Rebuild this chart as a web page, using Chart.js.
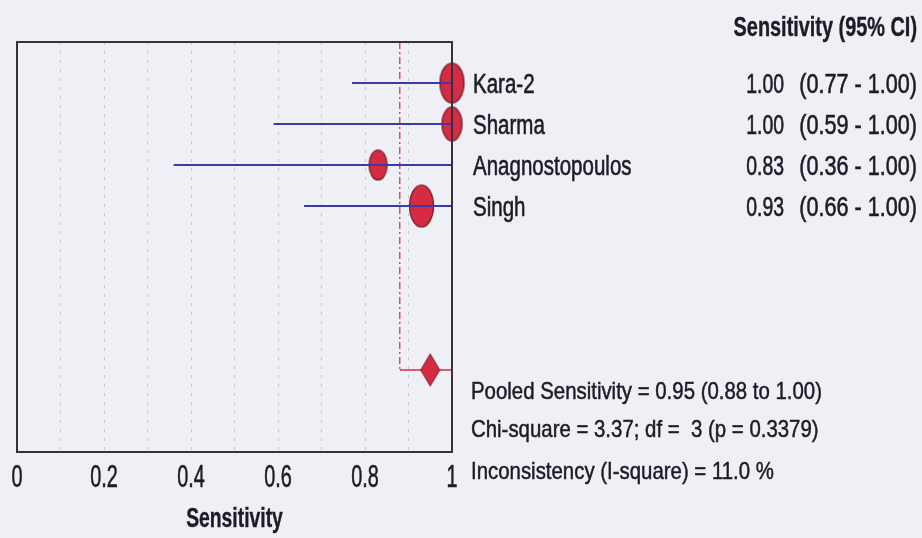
<!DOCTYPE html>
<html>
<head>
<meta charset="utf-8">
<script src="https://cdn.jsdelivr.net/npm/chart.js@4.4.1/dist/chart.umd.min.js"></script>
<style>
  body { margin: 0; background: #eff0f6; }
  #wrap { width: 922px; height: 538px; position: relative; }
</style>
</head>
<body>
<div id="wrap"><canvas id="myChart"></canvas></div>
<script>
// studies
const studies = ['Kara-2', 'Sharma', 'Anagnostopoulos', 'Singh'];
const sens = [1.00, 1.00, 0.83, 0.93];
const ciLow = [0.77, 0.59, 0.36, 0.66];
const ciHigh = [1.00, 1.00, 1.00, 1.00];

// pooled
const pooled = 0.95;
const pooledLow = 0.88;
const pooledHigh = 1.00;
const statLines = [
    'Pooled Sensitivity = 0.95 (0.88 to 1.00)',
    'Chi-square = 3.37; df =  3 (p = 0.3379)',
    'Inconsistency (I-square) = 11.0 %'
];

const tickValues = [0, 0.2, 0.4, 0.6, 0.8, 1];
const tickLabels = ['0', '0.2', '0.4', '0.6', '0.8', '1'];

const FONT = '"Liberation Sans", Arial, sans-serif';
const RED = '#d52b43';
const BLUE = '#3b3ba8';
const INK = '#1c1c24';

// marker shapes (ellipses, like the original)
function ellipse(rx, ry) {
    const c = document.createElement('canvas');
    c.width = rx * 2 + 3;
    c.height = ry * 2 + 3;
    const g = c.getContext('2d');
    g.beginPath();
    g.ellipse(c.width / 2, c.height / 2, rx, ry, 0, 0, Math.PI * 2);
    g.fillStyle = RED;
    g.fill();
    g.lineWidth = 1.2;
    g.strokeStyle = '#6e1822';
    g.stroke();
    return c;
}
function diamond(w, h) {
    const c = document.createElement('canvas');
    c.width = w + 3;
    c.height = h + 3;
    const g = c.getContext('2d');
    const cx = c.width / 2, cy = c.height / 2;
    g.beginPath();
    g.moveTo(cx, cy - h / 2);
    g.lineTo(cx + w / 2, cy);
    g.lineTo(cx, cy + h / 2);
    g.lineTo(cx - w / 2, cy);
    g.closePath();
    g.fillStyle = RED;
    g.fill();
    g.lineWidth = 1;
    g.strokeStyle = '#6e1822';
    g.stroke();
    return c;
}
const markerRx = [12, 10, 9, 12];
const markerRy = [20, 17, 15, 21];
const markers = studies.map((s, i) => ellipse(markerRx[i], markerRy[i]));

// row positions: study i on row i+1, pooled on row 8
const rows = studies.map((s, i) => i + 1);
const pooledRow = 8;

const datasets = [];
// CI lines
for (i in studies) {
    datasets.push({
        type: 'line',
        data: [{x: ciLow[i], y: rows[i]}, {x: ciHigh[i], y: rows[i]}],
        borderColor: BLUE,
        borderWidth: 2,
        pointRadius: 0,
        clip: false,
        order: 0
    });
}
// study points
datasets.push({
    type: 'scatter',
    data: studies.map((s, i) => ({x: sens[i], y: rows[i]})),
    pointStyle: markers,
    clip: false,
    order: 2
});
// pooled CI: dashed vertical + horizontal line
datasets.push({
    type: 'line',
    data: [{x: pooledLow, y: 0}, {x: pooledLow, y: pooledRow}],
    borderColor: RED,
    borderWidth: 1.2,
    borderDash: [7, 3, 2, 3],
    pointRadius: 0,
    order: 1
});
datasets.push({
    type: 'line',
    data: [{x: pooledLow, y: pooledRow}, {x: pooledHigh, y: pooledRow}],
    borderColor: RED,
    borderWidth: 1.5,
    pointRadius: 0,
    clip: false,
    order: 1
});
datasets.push({
    type: 'scatter',
    data: [{x: pooled, y: pooledRow}],
    pointStyle: [diamond(19, 32)],
    clip: false,
    order: 0
});

// narrow, tall text like the original (font is condensed horizontally)
function txt(ctx, s, x, y, size, sx, align, bold, heavy) {
    ctx.save();
    ctx.font = (bold ? 'bold ' : '') + size + 'px ' + FONT;
    ctx.textAlign = align;
    ctx.textBaseline = 'alphabetic';
    ctx.translate(x, y);
    ctx.scale(sx, 1);
    ctx.fillText(s, 0, 0);
    if (heavy) {
        ctx.lineWidth = heavy;
        ctx.strokeStyle = INK;
        ctx.strokeText(s, 0, 0);
    }
    ctx.restore();
}

// frame, axis labels and right-hand texts
const textPlugin = {
    id: 'forestText',
    afterDraw(chart) {
        const ctx = chart.ctx;
        const a = chart.chartArea;
        const xs = chart.scales.x;
        const ys = chart.scales.y;
        ctx.save();
        ctx.strokeStyle = '#3a3038';
        ctx.lineWidth = 2;
        ctx.strokeRect(a.left, a.top, a.right - a.left, a.bottom - a.top);
        ctx.fillStyle = INK;

        // x ticks + title
        tickValues.forEach((v, k) => {
            txt(ctx, tickLabels[k], xs.getPixelForValue(v), a.bottom + 35, 32, 0.62, 'center', false, 0.6);
        });
        txt(ctx, 'Sensitivity', (a.left + a.right) / 2, a.bottom + 75, 28, 0.69, 'center', true, 0.4);

        // header + study rows
        txt(ctx, 'Sensitivity (95% CI)', 917, 36, 28, 0.71, 'right', true, 0.4);
        for (i in studies) {
            const y = ys.getPixelForValue(rows[i]) + 9.5;
            txt(ctx, studies[i], a.right + 21, y, 27, 0.76, 'left', false, 0.6);
            txt(ctx, sens[i].toFixed(2), 784, y, 27, 0.72, 'right', false, 0.6);
            txt(ctx, '(' + ciLow[i].toFixed(2) + ' - ' + ciHigh[i].toFixed(2) + ')', 917, y, 27, 0.8, 'right', false, 0.6);
        }
        // pooled statistics
        const py = ys.getPixelForValue(pooledRow);
        [29, 67, 109].forEach((dy, k) => {
            txt(ctx, statLines[k], a.right + 19, py + dy, 24, 0.85, 'left', false, 0.5);
        });
        ctx.restore();
    }
};

const ctx = document.getElementById('myChart');
new Chart(ctx, {
    data: {datasets: datasets},
    options: {
        responsive: true,
        maintainAspectRatio: false,
        animation: false,
        events: [],
        layout: {padding: {left: 17, right: 470, top: 42, bottom: 86}},
        plugins: {legend: {display: false}, tooltip: {enabled: false}},
        scales: {
            x: {
                type: 'linear',
                min: 0,
                max: 1,
                ticks: {stepSize: 0.1, display: false},
                grid: {color: '#c6c6d0', lineWidth: 1, drawTicks: false},
                border: {display: false, dash: [3, 6]}
            },
            y: {
                type: 'linear',
                display: false,
                min: 0,
                max: 10,
                reverse: true
            }
        }
    },
    plugins: [textPlugin]
});
</script>
</body>
</html>
